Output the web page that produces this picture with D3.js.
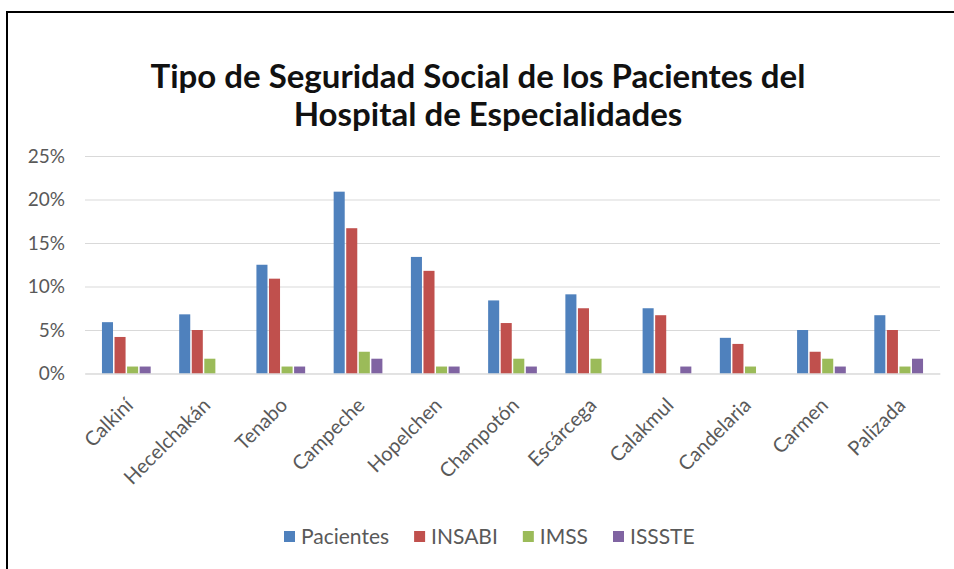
<!DOCTYPE html>
<meta charset="utf-8">
<title>Tipo de Seguridad Social</title>
<style>
body { margin: 0; background: #fff; }
svg { display: block; font-family: Lato, "Open Sans", sans-serif; }
.grid line { stroke: #d9d9d9; }
.grid .domain { display: none; }
.tick text { fill: #595959; }
</style>
<body>
<svg width="954" height="569"></svg>
<script src="https://d3js.org/d3.v7.min.js"></script>
<script>
// datos del grafico
var municipios = ["Calkiní", "Hecelchakán", "Tenabo", "Campeche", "Hopelchen", "Champotón",
                  "Escárcega", "Calakmul", "Candelaria", "Carmen", "Palizada"];
var series = ["Pacientes", "INSABI", "IMSS", "ISSSTE"];
var pacientes = [0.059, 0.068, 0.125, 0.209, 0.134, 0.084, 0.091, 0.075, 0.041, 0.050, 0.067];
var insabi    = [0.042, 0.050, 0.109, 0.167, 0.118, 0.058, 0.075, 0.067, 0.034, 0.025, 0.050];
var imss      = [0.008, 0.017, 0.008, 0.025, 0.008, 0.017, 0.017, 0, 0.008, 0.017, 0.008];
var issste    = [0.008, 0, 0.008, 0.017, 0.008, 0.008, 0, 0.008, 0, 0.008, 0.017];
var yTicks = [0, 0.05, 0.10, 0.15, 0.20, 0.25];
var colores = ["#4f81bd", "#c0504d", "#9bbb59", "#8064a2"];

var valores = [pacientes, insabi, imss, issste];
var data = municipios.map(function(m, i) {
  var d = {municipio: m};
  series.forEach(function(s, j) { d[s] = valores[j][i]; });
  return d;
});

var svg = d3.select("svg");

// marco
svg.append("line").attr("x1", 6).attr("x2", 954).attr("y1", 12).attr("y2", 12)
    .attr("stroke", "#000").attr("stroke-width", 2);
svg.append("line").attr("x1", 7).attr("x2", 7).attr("y1", 11).attr("y2", 569)
    .attr("stroke", "#000").attr("stroke-width", 2);

// titulo
var title = svg.append("text")
    .attr("text-anchor", "middle")
    .attr("font-size", 33)
    .attr("font-weight", "bold")
    .attr("fill", "#111");
title.append("tspan").attr("x", 478).attr("y", 88).text("Tipo de Seguridad Social de los Pacientes del");
title.append("tspan").attr("x", 488).attr("y", 126).text("Hospital de Especialidades");

var pLeft = 85, pRight = 940, pTop = 156, pBottom = 373.5;

var x0 = d3.scaleBand().domain(municipios).range([pLeft, pRight])
    .paddingInner(0.33).paddingOuter(0.2);
var x1 = d3.scaleBand().domain(series).range([0, x0.bandwidth()]).padding(0.12);
var y = d3.scaleLinear().domain([0, 0.25]).range([pBottom, pTop]);

// cuadricula y eje y
svg.append("g")
    .attr("class", "grid")
    .attr("transform", "translate(" + pLeft + ",0)")
    .call(d3.axisLeft(y).tickValues(yTicks).tickFormat(d3.format(".0%"))
      .tickSize(-(pRight - pLeft)).tickPadding(20))
    .call(function(g) {
      g.attr("font-family", null);
      g.selectAll("text").attr("font-size", 19);
    });

// barras
svg.append("g")
  .selectAll("g")
  .data(data)
  .enter().append("g")
    .attr("transform", function(d) { return "translate(" + x0(d.municipio) + ",0)"; })
  .selectAll("rect")
  .data(function(d) { return series.map(function(s, j) { return {key: s, value: d[s], c: colores[j]}; }); })
  .enter().append("rect")
    .attr("x", function(d) { return x1(d.key); })
    .attr("y", function(d) { return y(d.value); })
    .attr("width", x1.bandwidth())
    .attr("height", function(d) { return y(0) - y(d.value); })
    .attr("fill", function(d) { return d.c; });

// eje x
var xAxis = svg.append("g")
    .attr("transform", "translate(0," + pBottom + ")")
    .call(d3.axisBottom(x0).tickSize(0).tickPadding(0));
xAxis.attr("font-family", null);
xAxis.select(".domain").attr("stroke", "#d9d9d9");
xAxis.selectAll("text")
    .attr("font-size", 20)
    .attr("text-anchor", "end")
    .attr("dy", null)
    .attr("transform", "translate(8,33) rotate(-45)");

// leyenda
var legend = svg.append("g").attr("transform", "translate(284,537)");
var lx = 0;
series.forEach(function(s, j) {
  var item = legend.append("g").attr("transform", "translate(" + lx + ",0)");
  item.append("rect").attr("x", 0).attr("y", -6).attr("width", 11).attr("height", 11)
      .attr("fill", colores[j]);
  var t = item.append("text").attr("x", 17).attr("y", 0).attr("dy", "0.35em")
      .attr("font-size", 21).attr("fill", "#595959").text(s);
  lx += 17 + t.node().getComputedTextLength() + 25;
});
</script>
</body>
